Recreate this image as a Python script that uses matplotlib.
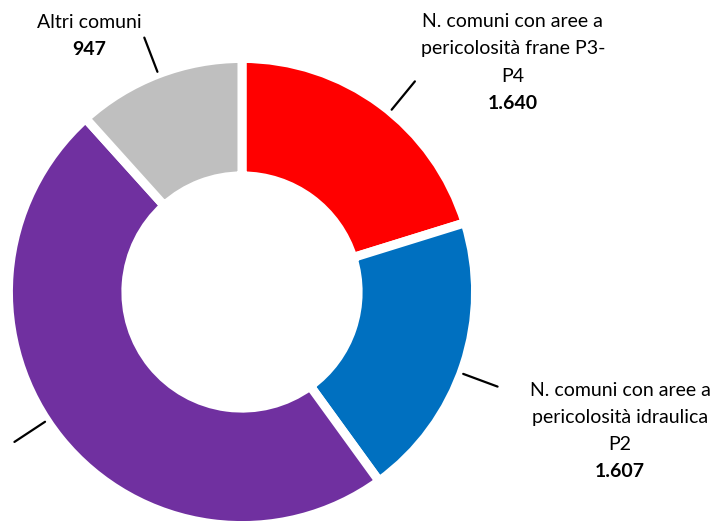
import numpy as np
import matplotlib.pyplot as plt

plt.rcParams['font.family'] = ['Lato', 'DejaVu Sans']

# dati
categorie = ['N. comuni con aree a\npericolosità frane P3-\nP4',
             'N. comuni con aree a\npericolosità idraulica\nP2',
             'N. comuni con aree a pericolosità\nfrane e idraulica',
             'Altri comuni']
valori = [1640, 1607, 3920, 947]
etichette_valori = ['1.640', '1.607', '3.920', '947']
colori = ['#FF0000', '#0070C0', '#7030A0', '#BFBFBF']

# centro delle etichette (coordinate dati, raggio esterno = 1)
pos_testo = [(1.183, 1.002), (1.651, -0.607), None, (-0.668, 1.118)]
# correzione angolo linee guida (gradi)
shift_linee = [-3.0, -1.9, -5.6, 0.0]

fig = plt.figure(figsize=(7.25, 5.21), dpi=100)
ax = fig.add_axes([13 / 725, 0.0, 458 / 725, 458 / 521])

wedges, _ = ax.pie(valori, colors=colori, startangle=90, counterclock=False,
                   radius=1.02,
                   wedgeprops=dict(width=0.513, edgecolor='white', linewidth=6.5))
ax.set_xlim(-1, 1)
ax.set_ylim(-1, 1)
ax.axis('off')

lh = 27.3 / 229  # altezza riga in unità dati

for w, testo, val, pos, sh in zip(wedges, categorie, etichette_valori, pos_testo, shift_linee):
    mid = np.deg2rad((w.theta1 + w.theta2) / 2 + sh)
    r1, r2 = 1.03, 1.19
    ax.plot([r1 * np.cos(mid), r2 * np.cos(mid)], [r1 * np.sin(mid), r2 * np.sin(mid)],
            color='black', lw=1.6, clip_on=False, solid_capstyle='round')
    if pos is None:
        continue
    x, y = pos
    righe = testo.split('\n') + [val]
    n = len(righe)
    for i, riga in enumerate(righe):
        yy = y + ((n - 1) / 2 - i) * lh
        ax.text(x, yy, riga, ha='center', va='center', fontsize=14,
                fontweight='bold' if i == n - 1 else 'normal',
                color='black', clip_on=False)

fig.savefig('out.png', dpi=100)
